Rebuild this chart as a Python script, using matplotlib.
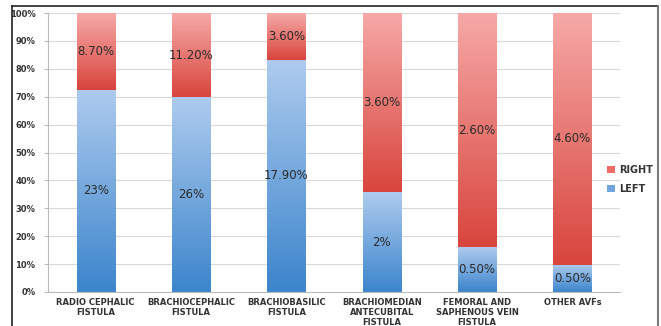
import numpy as np
import matplotlib.pyplot as plt
from matplotlib.colors import LinearSegmentedColormap
from matplotlib.lines import Line2D
from matplotlib.patches import Patch

categories = ["RADIO CEPHALIC\nFISTULA", "BRACHIOCEPHALIC\nFISTULA", "BRACHIOBASILIC\nFISTULA",
              "BRACHIOMEDIAN\nANTECUBITAL\nFISTULA", "FEMORAL AND\nSAPHENOUS VEIN\nFISTULA", "OTHER AVFs"]
left_vals = [23, 26, 17.9, 2, 0.5, 0.5]
right_vals = [8.7, 11.2, 3.6, 3.6, 2.6, 4.6]
left_labels = ["23%", "26%", "17.90%", "2%", "0.50%", "0.50%"]
right_labels = ["8.70%", "11.20%", "3.60%", "3.60%", "2.60%", "4.60%"]

left = np.array(left_vals)
right = np.array(right_vals)
total = left + right
left_pct = left / total * 100
right_pct = right / total * 100

blue_cmap = LinearSegmentedColormap.from_list("b", ["#3c85cc", "#aecbee"])
red_cmap = LinearSegmentedColormap.from_list("r", ["#d8453d", "#f6a9a7"])

fig = plt.figure(figsize=(6.61, 3.26), dpi=100)
ax = fig.add_axes([0.0726, 0.1043, 0.8654, 0.8557])

x = np.arange(len(categories))
b1 = ax.bar(x, left_pct, width=0.4, color="none", zorder=3)
b2 = ax.bar(x, right_pct, bottom=left_pct, width=0.4, color="none", zorder=3)

# gradient fill for each segment
grad = np.linspace(0, 1, 256).reshape(-1, 1)
for bars, cmap in [(b1, blue_cmap), (b2, red_cmap)]:
    for p in bars:
        bb = p.get_bbox()
        ax.imshow(grad, cmap=cmap, origin="lower", aspect="auto",
                  extent=(bb.x0, bb.x1, bb.y0, bb.y1), zorder=2)

ax.bar_label(b1, labels=left_labels, label_type="center", fontsize=8.5, color="#2b2b2b", zorder=4)
ax.bar_label(b2, labels=right_labels, label_type="center", fontsize=8.5, color="#2b2b2b", zorder=4)

ax.set_xlim(-0.5, len(categories) - 0.5)
ax.set_ylim(0, 100)
ax.set_yticks(np.arange(0, 101, 10))
ax.set_yticklabels([f"{v}%" for v in range(0, 101, 10)], fontsize=6, fontweight="bold", color="#333333")
ax.set_xticks(x)
ax.set_xticklabels(categories, fontsize=6, fontweight="bold", color="#333333", linespacing=1.15)
ax.tick_params(axis="x", length=0, pad=4)
ax.tick_params(axis="y", length=3, color="#bbbbbb", pad=6)
ax.grid(axis="y", color="#d9d9d9", linewidth=0.8, zorder=0)
ax.set_axisbelow(True)
for s in ["top", "right"]:
    ax.spines[s].set_visible(False)
for s in ["left", "bottom"]:
    ax.spines[s].set_color("#bbbbbb")
    ax.spines[s].set_linewidth(0.8)

handles = [Patch(facecolor="#ee6b66", label="RIGHT"), Patch(facecolor="#6fa6de", label="LEFT")]
fig.legend(handles=handles, loc="center left", bbox_to_anchor=(0.905, 0.45), frameon=False,
           prop={"size": 7, "weight": "bold"}, handlelength=0.8, handleheight=0.8,
           handletextpad=0.5, labelspacing=0.9, labelcolor="#333333")

# outer frame of the original image
fig.add_artist(Line2D([0.018, 0.018], [0, 0.982], transform=fig.transFigure, color="#222222", linewidth=1.2))
fig.add_artist(Line2D([0.018, 0.995], [0.982, 0.982], transform=fig.transFigure, color="#222222", linewidth=1.2))
fig.add_artist(Line2D([0.995, 0.995], [0, 0.982], transform=fig.transFigure, color="#777777", linewidth=1.5))

fig.savefig("out.png", dpi=100)
